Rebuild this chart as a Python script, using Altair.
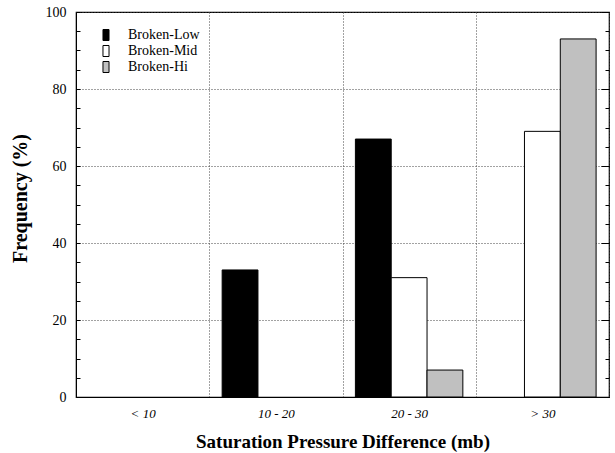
import altair as alt
import pandas as pd

categories = ["< 10", "10 - 20", "20 - 30", "> 30"]
series = ["Broken-Low", "Broken-Mid", "Broken-Hi"]
broken_low = [0, 33, 67, 0]
broken_mid = [0, 0, 31, 69]
broken_hi = [0, 0, 7, 93]
y_major_ticks = [0, 20, 40, 60, 80, 100]
y_minor_ticks = list(range(0, 101, 5))

rows = []
for name, vals in zip(series, [broken_low, broken_mid, broken_hi]):
    for c, v in zip(categories, vals):
        rows.append({"category": c, "series": name, "value": v})
df = pd.DataFrame(rows)
df_bars = df[df["value"] > 0]

FONT = "Liberation Serif"
W, H = 533, 385

yscale = alt.Scale(domain=[0, 100], nice=False, zero=True)

bars = alt.Chart(df_bars).mark_bar(stroke="black", strokeWidth=1).encode(
    x=alt.X(
        "category:N",
        sort=categories,
        scale=alt.Scale(domain=categories, paddingInner=0, paddingOuter=0),
        axis=alt.Axis(
            title="Saturation Pressure Difference (mb)",
            labelAngle=0,
            labelFont=FONT,
            labelFontStyle="italic",
            labelFontSize=13,
            labelColor="black",
            labelPadding=10,
            ticks=False,
            tickBand="extent",
            grid=True,
            gridColor="#444444",
            gridDash=[1, 2],
            gridWidth=1,
            domainColor="black",
            titleFont=FONT,
            titleFontSize=19,
            titleFontWeight="bold",
            titleColor="black",
            titleBaseline="alphabetic",
            titleY=50,
        ),
    ),
    xOffset=alt.XOffset(
        "series:N",
        sort=series,
        scale=alt.Scale(domain=series, paddingInner=0, paddingOuter=0.36),
    ),
    y=alt.Y(
        "value:Q",
        scale=yscale,
        axis=alt.Axis(
            title="Frequency (%)",
            values=y_major_ticks,
            orient="left",
            labelFont=FONT,
            labelFontSize=14,
            labelColor="black",
            labelPadding=10,
            ticks=False,
            grid=True,
            gridColor="#444444",
            gridDash=[1, 2],
            gridWidth=1,
            domainColor="black",
            titleFont=FONT,
            titleFontSize=20,
            titleFontWeight="bold",
            titleColor="black",
            titleX=-56,
            titleY=186,
            titleBaseline="middle",
        ),
    ),
    color=alt.Color(
        "series:N",
        sort=series,
        scale=alt.Scale(domain=series, range=["#000000", "#ffffff", "#c0c0c0"]),
        legend=alt.Legend(
            title=None,
            orient="none",
            legendX=23,
            legendY=16,
            padding=0,
            symbolType="M-0.55,-1H0.55V1H-0.55Z",
            symbolSize=121,
            symbolStrokeColor="black",
            symbolStrokeWidth=1,
            labelFont=FONT,
            labelFontSize=14,
            labelColor="black",
            labelOffset=15,
            rowPadding=0,
            fillColor="white",
        ),
    ),
)

ticks_df = pd.DataFrame({"value": y_minor_ticks})


def tick_layer(orient, values, size):
    return alt.Chart(ticks_df).mark_rule(opacity=0).encode(
        y=alt.Y(
            "value:Q",
            scale=yscale,
            axis=alt.Axis(
                orient=orient,
                offset=-W,
                values=values,
                labels=False,
                domain=False,
                grid=False,
                ticks=True,
                tickSize=size,
                tickColor="black",
                tickWidth=1,
                title=None,
            ),
        )
    )


left_minor = tick_layer("right", y_minor_ticks, 4)
right_minor = tick_layer("left", y_minor_ticks, 4)
right_major = tick_layer("left", y_major_ticks, 8)

chart = (
    alt.layer(bars, left_minor, right_minor, right_major)
    .resolve_axis(y="independent")
    .properties(
        width=W,
        height=H,
        autosize=alt.AutoSizeParams(type="none"),
        padding={"left": 76, "top": 12, "right": 6, "bottom": 56},
        background="white",
    )
    .configure_view(stroke="black", strokeWidth=1.2)
)

chart.save("out.html", embed_options={"renderer": "svg", "actions": False})
